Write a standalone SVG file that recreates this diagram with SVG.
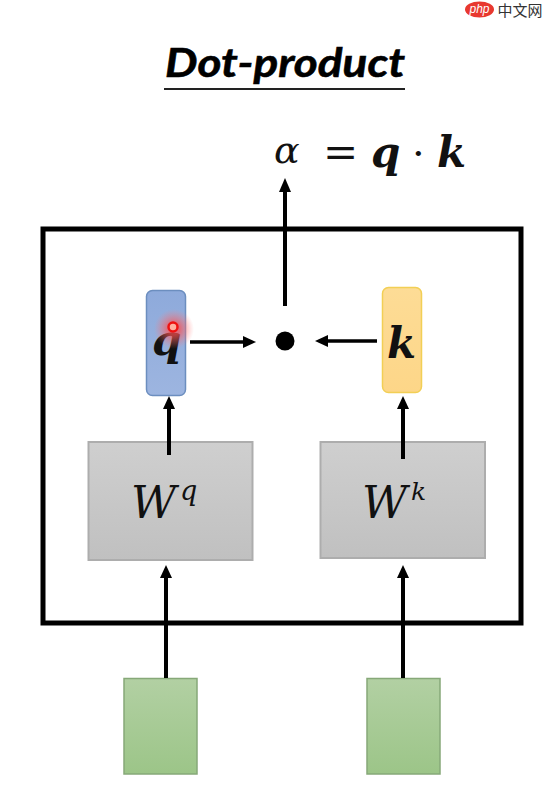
<svg xmlns="http://www.w3.org/2000/svg" width="546" height="792" viewBox="0 0 546 792">
<defs>
<style>
.math{font-family:"DejaVu Serif","Liberation Serif",serif;font-style:italic;fill:#111}
.upright{font-style:normal}
.bold{font-weight:bold}
.line{fill:none;stroke:#000;stroke-width:4}
.thin{stroke-width:3.500}
.head{fill:#000}
.gray{fill:url(#g);stroke:#adadad;stroke-width:2}
.green{fill:url(#gr);stroke:#86a878;stroke-width:1.500}
</style>
<linearGradient id="g" x1="0" y1="0" x2="0" y2="1"><stop offset="0" stop-color="#cfcfcf"/><stop offset="1" stop-color="#c0c0c0"/></linearGradient>
<linearGradient id="gr" x1="0" y1="0" x2="0" y2="1"><stop offset="0" stop-color="#b2d0a3"/><stop offset="1" stop-color="#9cc588"/></linearGradient>
<linearGradient id="bl" x1="0" y1="0" x2="0" y2="1"><stop offset="0" stop-color="#8eaadb"/><stop offset="1" stop-color="#9db5e0"/></linearGradient>
<linearGradient id="or" x1="0" y1="0" x2="0" y2="1"><stop offset="0" stop-color="#fddc96"/><stop offset="1" stop-color="#fdd688"/></linearGradient>
<radialGradient id="glow"><stop offset="0.3" stop-color="#ff5050" stop-opacity="0.7"/><stop offset="1" stop-color="#ff8080" stop-opacity="0"/></radialGradient>
</defs>

<g id="watermark">
<ellipse cx="479.500" cy="9.500" rx="14.500" ry="8" fill="#e8382f"/>
<text x="479.500" y="13" text-anchor="middle" font-family="'Liberation Sans',sans-serif" font-size="12" font-style="italic" fill="#fff">php</text>
<text x="520" y="16" text-anchor="middle" font-family="'Noto Sans CJK SC',sans-serif" font-size="15" fill="#333">中文网</text>
</g>

<g id="title">
<text x="285" y="77" text-anchor="middle" font-family="Lato,'Open Sans',sans-serif" font-size="41" font-weight="bold" font-style="italic" fill="#000" stroke="#000" stroke-width="0.600" textLength="240" lengthAdjust="spacingAndGlyphs">Dot-product</text>
<rect x="164" y="88" width="241" height="2" fill="#222"/>
</g>

<g id="formula">
<text class="math" x="274" y="163" font-size="38">α</text>
<text class="math upright" x="323" y="167" font-size="42">=</text>
<text class="math bold" x="371" y="167" font-size="42">q</text>
<text class="math upright" x="412" y="167" font-size="40">·</text>
<text class="math bold" x="437" y="167" font-size="42">k</text>
</g>

<g id="frame"><rect x="43" y="229" width="478" height="394" fill="none" stroke="#000" stroke-width="5"/></g>

<g id="node-q">
<rect x="146.500" y="290.500" width="39" height="105" rx="6" fill="url(#bl)" stroke="#6c8ebf" stroke-width="1.500"/>
<text class="math bold" x="152" y="355" font-size="42">q</text>
<circle cx="174" cy="329" r="20" fill="url(#glow)"/>
<circle cx="173" cy="327" r="4.500" fill="#ffb0a0" stroke="#ee1111" stroke-width="2.500"/>
</g>

<g id="node-k">
<rect x="382.500" y="287.500" width="39" height="105" rx="6" fill="url(#or)" stroke="#f2cf55" stroke-width="1.500"/>
<text class="math bold" x="387" y="358" font-size="42">k</text>
</g>

<g id="node-wq">
<rect class="gray" x="88.500" y="442" width="164" height="118"/>
<text class="math" x="131" y="518" font-size="44">W</text>
<text class="math" x="180" y="500" font-size="27">q</text>
</g>

<g id="node-wk">
<rect class="gray" x="320.500" y="442" width="164.500" height="116"/>
<text class="math" x="362" y="518" font-size="44">W</text>
<text class="math" x="411" y="500" font-size="25">k</text>
</g>

<g id="dot"><circle cx="285" cy="341" r="9.500" fill="#000"/></g>
<g id="input-q"><rect class="green" x="124" y="678.500" width="73" height="95.500"/></g>
<g id="input-k"><rect class="green" x="367" y="678.500" width="73" height="95.500"/></g>

<g id="connectors">
<path class="line" d="M285 306V190"/><path class="head" d="M285 178l-6 14h12z"/>
<path class="line thin" d="M190 342H246"/><path class="head" d="M256 342l-13-6v12z"/>
<path class="line thin" d="M377 341H325"/><path class="head" d="M315 341l13-6v12z"/>
<path class="line" d="M169 455V407"/><path class="head" d="M169 396l-6 13h12z"/>
<path class="line" d="M403 459V407"/><path class="head" d="M403 396l-6 13h12z"/>
<path class="line" d="M166 678V577"/><path class="head" d="M166 565l-6 13h12z"/>
<path class="line" d="M403 678V577"/><path class="head" d="M403 565l-6 13h12z"/>
</g>
</svg>
